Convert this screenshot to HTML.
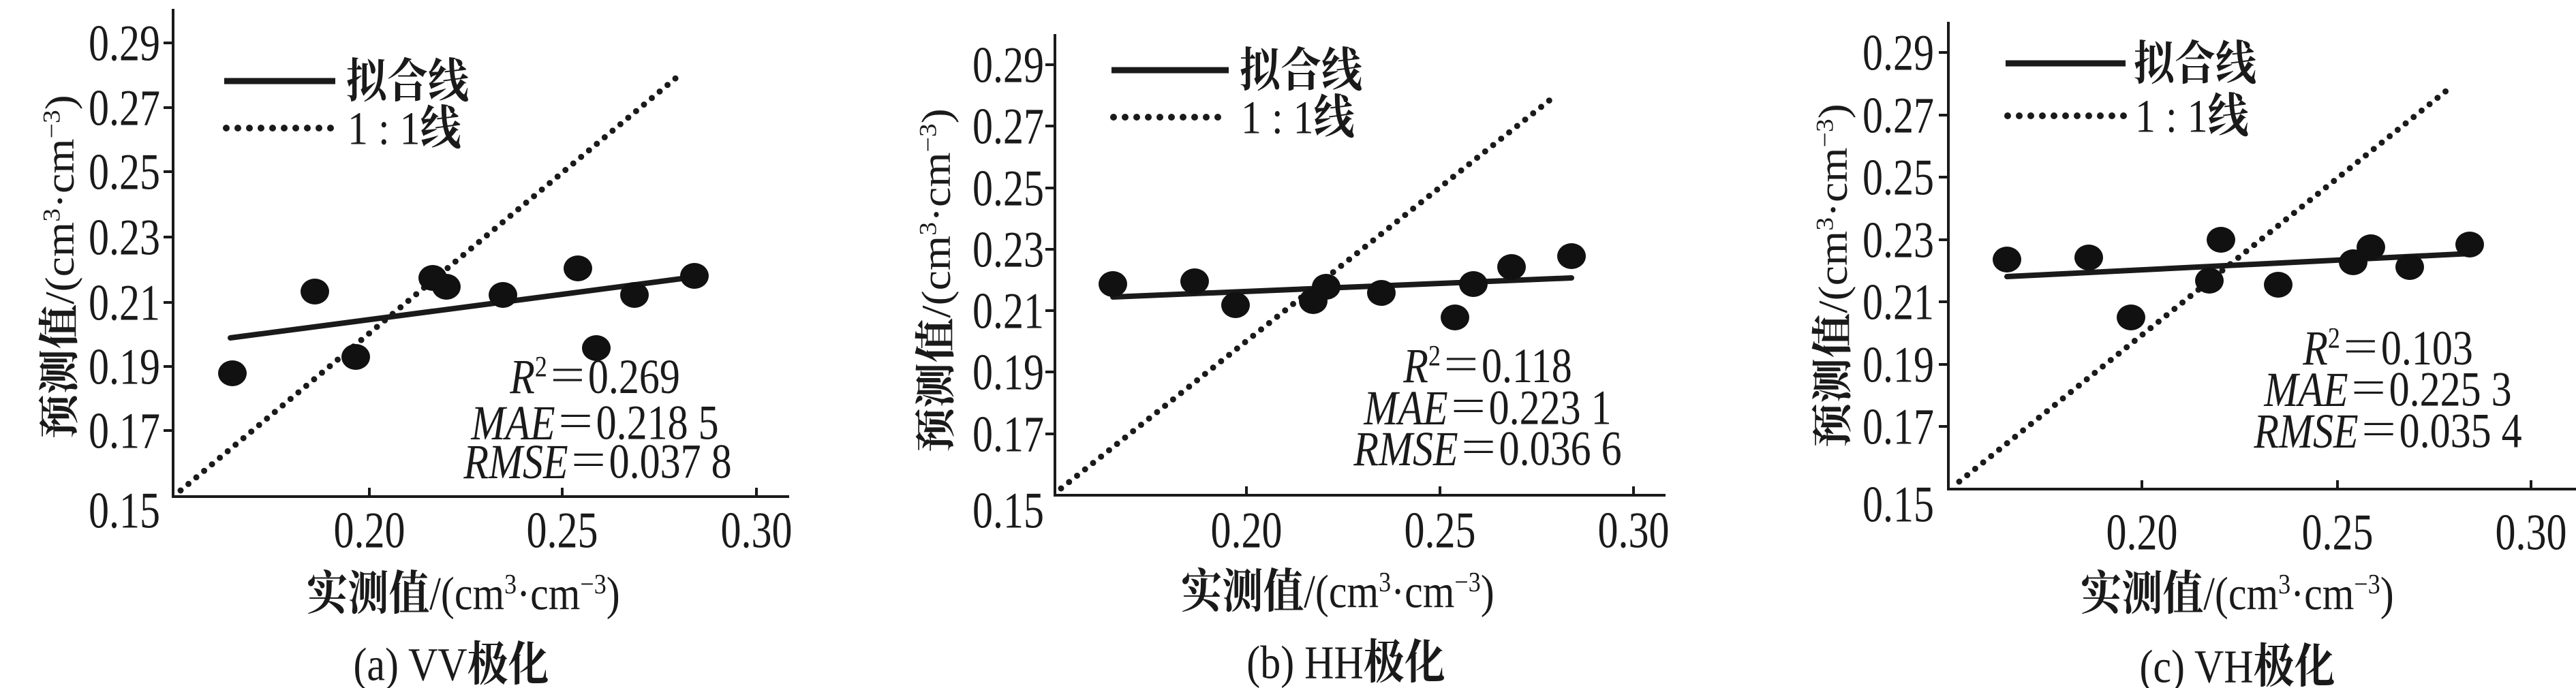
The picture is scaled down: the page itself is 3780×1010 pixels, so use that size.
<!DOCTYPE html>
<html><head><meta charset="utf-8"><style>
html,body{margin:0;padding:0;background:#fff;}
svg{display:block}
text{font-family:"Liberation Serif","Noto Serif CJK SC","Noto Sans CJK SC",serif;fill:#1a1a1a;}
.cj{font-family:"Liberation Serif","Noto Serif CJK SC","Noto Sans CJK SC",serif;font-weight:bold;}
.t{font-size:60px;}
</style></head><body>
<svg width="3780" height="1010" viewBox="0 0 3780 1010" xmlns="http://www.w3.org/2000/svg">
<g stroke="#1a1a1a" stroke-width="4" fill="none">
<path d="M254 13V729H1158"/>
<path d="M240 63H254M240 158H254M240 252H254M240 348H254M240 444H254M240 538H254M240 632H254"/>
<path d="M542 729V716M825 729V716M1110 729V716"/>
<path d="M1548 50V727H2444"/>
<path d="M1534 95H1548M1534 185H1548M1534 276H1548M1534 366H1548M1534 456H1548M1534 546H1548M1534 637H1548"/>
<path d="M1829 727V714M2113 727V714M2397 727V714"/>
<path d="M2859 32V718H3780"/>
<path d="M2845 77H2859M2845 169H2859M2845 260H2859M2845 352H2859M2845 443H2859M2845 535H2859M2845 626H2859"/>
<path d="M3143 718V705M3430 718V705M3714 718V705"/>
</g>
<g stroke="#1a1a1a" fill="none" stroke-linecap="round">
<path d="M265 720L996 111" stroke-width="9" stroke-dasharray="0 15"/>
<path d="M1557 717L2274 147" stroke-width="9" stroke-dasharray="0 15"/>
<path d="M2875 707L3600 125" stroke-width="9" stroke-dasharray="0 15"/>
<path d="M329 119H492" stroke-width="9" stroke-linecap="butt"/>
<path d="M332 188H492" stroke-width="10" stroke-dasharray="0 17"/>
<path d="M1631 103H1803" stroke-width="9" stroke-linecap="butt"/>
<path d="M1634 172H1803" stroke-width="10" stroke-dasharray="0 17"/>
<path d="M2943 93H3119" stroke-width="9" stroke-linecap="butt"/>
<path d="M2946 170H3119" stroke-width="10" stroke-dasharray="0 17"/>
<path d="M338 496L1023 406" stroke-width="8"/>
<path d="M1633 436L2306 408" stroke-width="8"/>
<path d="M2945 406L3628 372" stroke-width="8"/>
</g>
<g fill="#111">
<ellipse cx="341" cy="548" rx="21" ry="19"/><ellipse cx="462" cy="428" rx="21" ry="19"/><ellipse cx="522" cy="524" rx="21" ry="19"/><ellipse cx="635" cy="408" rx="21" ry="19"/><ellipse cx="655" cy="421" rx="21" ry="19"/><ellipse cx="738" cy="433" rx="21" ry="19"/><ellipse cx="848" cy="394" rx="21" ry="19"/><ellipse cx="875" cy="511" rx="21" ry="19"/><ellipse cx="931" cy="433" rx="21" ry="19"/><ellipse cx="1019" cy="405" rx="21" ry="19"/>
<ellipse cx="1633" cy="417" rx="21" ry="19"/><ellipse cx="1753" cy="413" rx="21" ry="19"/><ellipse cx="1813" cy="448" rx="21" ry="19"/><ellipse cx="1927" cy="442" rx="21" ry="19"/><ellipse cx="1946" cy="421" rx="21" ry="19"/><ellipse cx="2027" cy="430" rx="21" ry="19"/><ellipse cx="2135" cy="466" rx="21" ry="19"/><ellipse cx="2162" cy="417" rx="21" ry="19"/><ellipse cx="2218" cy="392" rx="21" ry="19"/><ellipse cx="2306" cy="376" rx="21" ry="19"/>
<ellipse cx="2945" cy="381" rx="21" ry="19"/><ellipse cx="3065" cy="378" rx="21" ry="19"/><ellipse cx="3127" cy="466" rx="21" ry="19"/><ellipse cx="3242" cy="412" rx="21" ry="19"/><ellipse cx="3259" cy="352" rx="21" ry="19"/><ellipse cx="3343" cy="418" rx="21" ry="19"/><ellipse cx="3453" cy="385" rx="21" ry="19"/><ellipse cx="3479" cy="363" rx="21" ry="19"/><ellipse cx="3536" cy="392" rx="21" ry="19"/><ellipse cx="3624" cy="359" rx="21" ry="19"/>
</g>

<g class="t" text-anchor="end" dominant-baseline="central">
<text transform="translate(235,63) scale(1,1.25)">0.29</text>
<text transform="translate(235,158) scale(1,1.25)">0.27</text>
<text transform="translate(235,252) scale(1,1.25)">0.25</text>
<text transform="translate(235,348) scale(1,1.25)">0.23</text>
<text transform="translate(235,444) scale(1,1.25)">0.21</text>
<text transform="translate(235,538) scale(1,1.25)">0.19</text>
<text transform="translate(235,632) scale(1,1.25)">0.17</text>
<text transform="translate(235,749) scale(1,1.25)">0.15</text>
<text transform="translate(1532,95) scale(1,1.25)">0.29</text>
<text transform="translate(1532,185) scale(1,1.25)">0.27</text>
<text transform="translate(1532,276) scale(1,1.25)">0.25</text>
<text transform="translate(1532,366) scale(1,1.25)">0.23</text>
<text transform="translate(1532,456) scale(1,1.25)">0.21</text>
<text transform="translate(1532,546) scale(1,1.25)">0.19</text>
<text transform="translate(1532,637) scale(1,1.25)">0.17</text>
<text transform="translate(1532,749) scale(1,1.25)">0.15</text>
<text transform="translate(2838,77) scale(1,1.25)">0.29</text>
<text transform="translate(2838,169) scale(1,1.25)">0.27</text>
<text transform="translate(2838,260) scale(1,1.25)">0.25</text>
<text transform="translate(2838,352) scale(1,1.25)">0.23</text>
<text transform="translate(2838,443) scale(1,1.25)">0.21</text>
<text transform="translate(2838,535) scale(1,1.25)">0.19</text>
<text transform="translate(2838,626) scale(1,1.25)">0.17</text>
<text transform="translate(2838,740) scale(1,1.25)">0.15</text>
</g>
<g class="t" text-anchor="middle" dominant-baseline="central">
<text transform="translate(542,778) scale(1,1.25)">0.20</text>
<text transform="translate(825,778) scale(1,1.25)">0.25</text>
<text transform="translate(1110,778) scale(1,1.25)">0.30</text>
<text transform="translate(1829,778) scale(1,1.25)">0.20</text>
<text transform="translate(2113,778) scale(1,1.25)">0.25</text>
<text transform="translate(2397,778) scale(1,1.25)">0.30</text>
<text transform="translate(3143,781) scale(1,1.25)">0.20</text>
<text transform="translate(3430,781) scale(1,1.25)">0.25</text>
<text transform="translate(3714,781) scale(1,1.25)">0.30</text>

<text transform="translate(873,553) scale(1,1.2)"><tspan font-style="italic">R</tspan><tspan font-size="36" dy="-12">2</tspan><tspan dy="12">＝0.269</tspan></text>
<text transform="translate(873,621) scale(1,1.2)"><tspan font-style="italic">MAE</tspan>＝0.218 5</text>
<text transform="translate(877,678) scale(1,1.2)"><tspan font-style="italic">RMSE</tspan>＝0.037 8</text>
<text transform="translate(2183,537) scale(1,1.2)"><tspan font-style="italic">R</tspan><tspan font-size="36" dy="-12">2</tspan><tspan dy="12">＝0.118</tspan></text>
<text transform="translate(2183,599) scale(1,1.2)"><tspan font-style="italic">MAE</tspan>＝0.223 1</text>
<text transform="translate(2183,659) scale(1,1.2)"><tspan font-style="italic">RMSE</tspan>＝0.036 6</text>
<text transform="translate(3504,511) scale(1,1.2)"><tspan font-style="italic">R</tspan><tspan font-size="36" dy="-12">2</tspan><tspan dy="12">＝0.103</tspan></text>
<text transform="translate(3504,572) scale(1,1.2)"><tspan font-style="italic">MAE</tspan>＝0.225 3</text>
<text transform="translate(3504,633) scale(1,1.2)"><tspan font-style="italic">RMSE</tspan>＝0.035 4</text>

<text transform="translate(680,871) scale(1,1.15)"><tspan class="cj">实测值</tspan>/(cm<tspan font-size="36" dy="-12">3</tspan><tspan dy="12">·cm</tspan><tspan font-size="36" dy="-12">−3</tspan><tspan dy="12">)</tspan></text>
<text transform="translate(1963,868) scale(1,1.15)"><tspan class="cj">实测值</tspan>/(cm<tspan font-size="36" dy="-12">3</tspan><tspan dy="12">·cm</tspan><tspan font-size="36" dy="-12">−3</tspan><tspan dy="12">)</tspan></text>
<text transform="translate(3283,871) scale(1,1.15)"><tspan class="cj">实测值</tspan>/(cm<tspan font-size="36" dy="-12">3</tspan><tspan dy="12">·cm</tspan><tspan font-size="36" dy="-12">−3</tspan><tspan dy="12">)</tspan></text>

<text transform="translate(88,392) rotate(-90) scale(1.1,1)"><tspan class="cj">预测值</tspan>/(cm<tspan font-size="36" dy="-12">3</tspan><tspan dy="12">·cm</tspan><tspan font-size="36" dy="-12">−3</tspan><tspan dy="12">)</tspan></text>
<text transform="translate(1374,412) rotate(-90) scale(1.1,1)"><tspan class="cj">预测值</tspan>/(cm<tspan font-size="36" dy="-12">3</tspan><tspan dy="12">·cm</tspan><tspan font-size="36" dy="-12">−3</tspan><tspan dy="12">)</tspan></text>
<text transform="translate(2690,405) rotate(-90) scale(1.1,1)"><tspan class="cj">预测值</tspan>/(cm<tspan font-size="36" dy="-12">3</tspan><tspan dy="12">·cm</tspan><tspan font-size="36" dy="-12">−3</tspan><tspan dy="12">)</tspan></text>

<text transform="translate(662,975) scale(1,1.15)">(a) VV<tspan class="cj">极化</tspan></text>
<text transform="translate(1975,972) scale(1,1.15)">(b) HH<tspan class="cj">极化</tspan></text>
<text transform="translate(3283,978) scale(1,1.15)">(c) VH<tspan class="cj">极化</tspan></text>
</g>

<g class="t" text-anchor="start" dominant-baseline="central">
<text class="cj" transform="translate(508,119) scale(1,1.15)">拟合线</text>
<text transform="translate(510,188) scale(1,1.15)">1 : 1<tspan class="cj">线</tspan></text>
<text class="cj" transform="translate(1819,103) scale(1,1.15)">拟合线</text>
<text transform="translate(1821,172) scale(1,1.15)">1 : 1<tspan class="cj">线</tspan></text>
<text class="cj" transform="translate(3131,93) scale(1,1.15)">拟合线</text>
<text transform="translate(3133,170) scale(1,1.15)">1 : 1<tspan class="cj">线</tspan></text>
</g>
</svg>
</body></html>
